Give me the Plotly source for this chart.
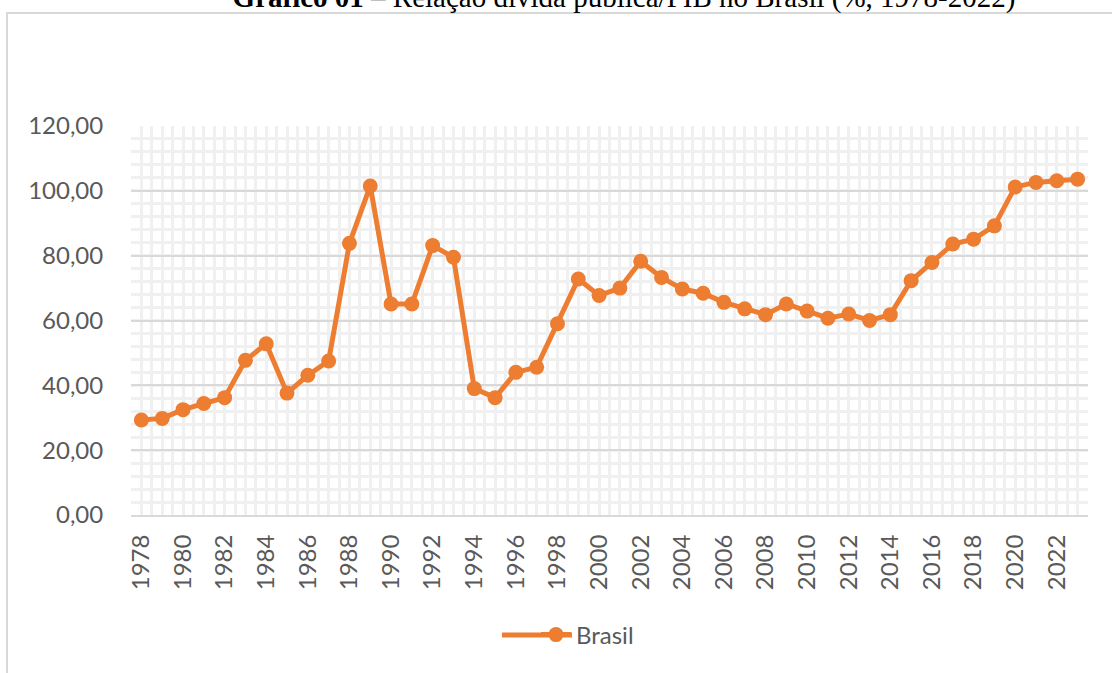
import plotly.graph_objects as go

years = list(range(1978, 2024))
divida_pib = [29.3, 29.8, 32.5, 34.4, 36.2, 47.7, 52.8, 37.6, 43.1, 47.5,
              83.8, 101.5, 65.1, 65.1, 83.1, 79.5, 39.0, 36.2, 44.0, 45.6,
              59.0, 72.8, 67.7, 70.0, 78.3, 73.3, 69.7, 68.4, 65.6, 63.6,
              61.8, 65.1, 62.9, 60.7, 62.0, 60.0, 61.8, 72.3, 77.9, 83.6,
              85.1, 89.2, 101.2, 102.6, 103.1, 103.6]
tick_years = list(range(1978, 2023, 2))
y_ticks = [0, 20, 40, 60, 80, 100, 120]
series_name = "Brasil"
title_text = "<b>Gráfico 01</b> – Relação dívida pública/PIB no Brasil (%, 1978-2022)"

W, H = 1112, 673
L, R, T, B = 131, 1112 - 1088, 126, 673 - 515
pw, ph = W - L - R, H - T - B

def px(x):
    return (x - L) / pw

def py(y):
    return (H - B - y) / ph

orange = "#ED7D31"
gray_text = "#595959"

fig = go.Figure()
fig.add_trace(go.Scatter(
    x=years, y=divida_pib, mode="lines+markers", name=series_name,
    line=dict(color=orange, width=5),
    marker=dict(color=orange, size=15),
))

fig.update_layout(
    width=W, height=H,
    margin=dict(l=L, r=R, t=T, b=B),
    paper_bgcolor="white", plot_bgcolor="white",
    separators=",.",
    font=dict(family="Lato", color=gray_text, size=24),
    showlegend=True,
    legend=dict(orientation="h", x=px(536), xanchor="left", y=py(635), yanchor="middle",
                bgcolor="rgba(0,0,0,0)",
                font=dict(family="Lato", size=24, color=gray_text)),
    title=dict(text=title_text, x=624 / W, xanchor="center", xref="container",
               yref="container", y=1 - 7 / H, yanchor="bottom",
               font=dict(family="Liberation Serif", size=29, color="black")),
    xaxis=dict(
        range=[1977.5, 2023.5], tickmode="array", tickvals=tick_years,
        ticktext=[str(y) for y in tick_years], tickangle=-90,
        showgrid=False, zeroline=False, showline=True, linecolor="#d9d9d9", linewidth=2,
        ticks="outside", ticklen=8, tickcolor="rgba(0,0,0,0)",
        tickfont=dict(family="Lato", size=24, color=gray_text),
        minor=dict(showgrid=True, gridcolor="#f0f0f0", gridwidth=2.5,
                   tick0=1977.5, dtick=0.5),
    ),
    yaxis=dict(
        range=[0, 120], tickmode="array", tickvals=y_ticks, tickformat=".2f",
        showgrid=True, gridcolor="#d9d9d9", gridwidth=2, zeroline=False,
        showline=False, ticks="outside", ticklen=22, tickcolor="rgba(0,0,0,0)",
        tickfont=dict(family="Lato", size=24, color=gray_text),
        minor=dict(showgrid=True, gridcolor="#f0f0f0", gridwidth=2.5, dtick=4),
    ),
    shapes=[
        dict(type="line", xref="paper", yref="paper",
             x0=px(7), x1=px(7), y0=py(13), y1=py(700),
             line=dict(color="#d9d9d9", width=2), layer="below"),
        dict(type="line", xref="paper", yref="paper",
             x0=px(6), x1=px(1140), y0=py(13), y1=py(13),
             line=dict(color="#d9d9d9", width=2), layer="below"),
        dict(type="line", xref="paper", yref="paper",
             x0=px(502), x1=px(572), y0=py(635), y1=py(635),
             line=dict(color=orange, width=5), layer="below"),
    ],
)

fig.write_html("out.html", config={"displayModeBar": False},
               post_script="document.body.style.margin='0';document.body.style.overflow='hidden';")
